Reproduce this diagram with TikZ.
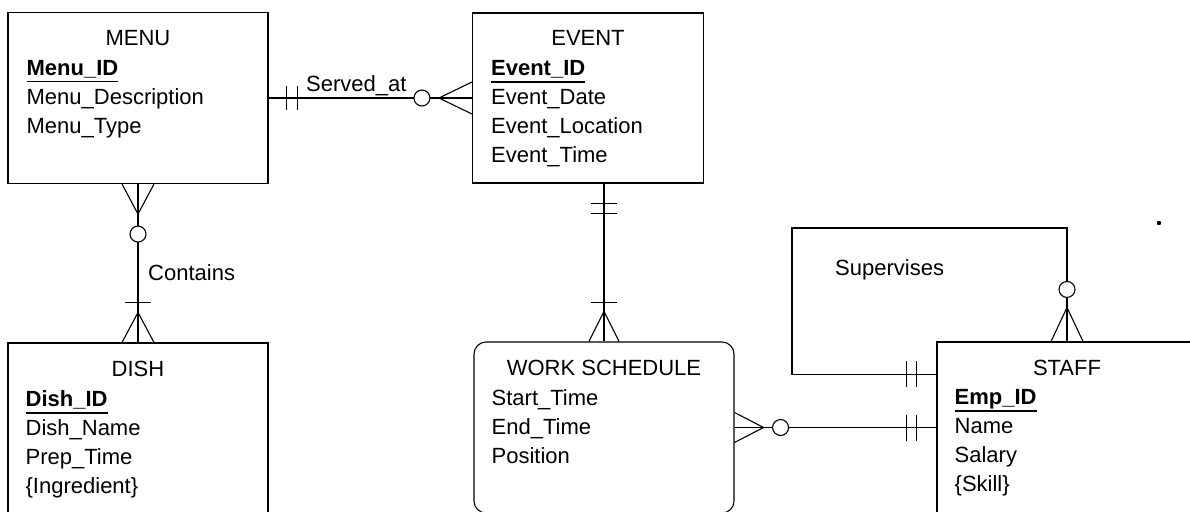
\documentclass[tikz,border=0pt]{standalone}
\usepackage{fontspec}
\setmainfont{Liberation Sans}
\usepackage{tikz}
\usetikzlibrary{positioning, calc}
\newcommand\keyattr[1]{\setbox0\hbox{\bfseries #1}\rlap{\rule[-7pt]{\wd0}{1.3pt}}\box0}
\begin{document}
\begin{tikzpicture}[
  x=1pt, y=-1pt,
  font=\fontsize{22}{29}\selectfont,
  entity/.style={rectangle, draw, line width=1.1pt, inner sep=0,
    minimum width=260pt, minimum height=171pt},
  etitle/.style={inner sep=0},
  attr/.style={inner sep=0, align=left},
  rel/.style={line width=1.1pt},
  zero/.style={circle, draw, fill=white, line width=1.1pt, inner sep=0, minimum size=16pt},
  label/.style={inner sep=0, anchor=base west}
]
\fill[white] (0,0) rectangle (1190,511);
\useasboundingbox (0,0) rectangle (1190,511);
\node[entity] (menu) at (138,98) {};
\node[entity, minimum width=231pt, minimum height=170pt] (event) at (588,98) {};
\node[entity, minimum height=200pt] (dish) at (138,443) {};
\node[entity, rounded corners=12pt] (ws) at (604,427.5) {};
\node[entity, minimum height=200pt] (staff) at (1067,442) {};
\node[etitle, below=18pt of menu.north] (menutitle) {MENU};
\node[attr, below right=48pt and 19pt of menu.north west] (menuattr)
  {\keyattr{Menu\_ID}\\Menu\_Description\\Menu\_Type};
\node[etitle, below=18pt of event.north] (eventtitle) {EVENT};
\node[attr, below right=48pt and 19pt of event.north west] (eventattr)
  {\keyattr{Event\_ID}\\Event\_Date\\Event\_Location\\Event\_Time};
\node[etitle, below=18pt of dish.north] (dishtitle) {DISH};
\node[attr, below right=48pt and 18pt of dish.north west] (dishattr)
  {\keyattr{Dish\_ID}\\Dish\_Name\\Prep\_Time\\\{Ingredient\}};
\node[etitle, below=18pt of ws.north] (wstitle) {WORK SCHEDULE};
\node[attr, below right=48pt and 18pt of ws.north west] (wsattr)
  {Start\_Time\\End\_Time\\Position};
\node[etitle, below=18pt of staff.north] (stafftitle) {STAFF};
\node[attr, below right=48pt and 18pt of staff.north west] (staffattr)
  {\keyattr{Emp\_ID}\\Name\\Salary\\\{Skill\}};
\coordinate (supcorner) at (792,228);
\draw[rel] (menu) -- (event);
\draw[rel] (menu) -- (dish);
\draw[rel] (event.south -| ws.north) -- (ws.north);
\draw[rel] (ws) -- (staff.west |- ws.east);
\draw[rel] ($(staff.north west)+(0,33)$) -| (supcorner) -| (staff.north);
\draw[rel] ($(menu.east)+(18,-12)$) -- +(0,24);
\draw[rel] ($(menu.east)+(29,-12)$) -- +(0,24);
\node[zero] (servedzero) at ($(event.west)+(-50,0)$) {};
\draw[rel] ($(event.west)+(0,-16)$) -- ($(event.west)+(-33,0)$) -- ($(event.west)+(0,16)$);
\draw[rel] ($(menu.south)+(-16,0)$) -- ($(menu.south)+(0,30)$) -- ($(menu.south)+(16,0)$);
\node[zero] (containszero) at ($(menu.south)+(0,50)$) {};
\draw[rel] ($(dish.north)+(-13,-40)$) -- +(26,0);
\draw[rel] ($(dish.north)+(-16,0)$) -- ($(dish.north)+(0,-30)$) -- ($(dish.north)+(16,0)$);
\draw[rel] ($(event.south -| ws.north)+(-13,20)$) -- +(26,0);
\draw[rel] ($(event.south -| ws.north)+(-13,30)$) -- +(26,0);
\draw[rel] ($(ws.north)+(-13,-39)$) -- +(26,0);
\draw[rel] ($(ws.north)+(-15,0)$) -- ($(ws.north)+(0,-30)$) -- ($(ws.north)+(15,0)$);
\draw[rel] ($(ws.east)+(0,-15)$) -- ($(ws.east)+(29,0)$) -- ($(ws.east)+(0,15)$);
\node[zero] (wszero) at ($(ws.east)+(46,0)$) {};
\draw[rel] ($(staff.west |- ws.east)+(-30,-13)$) -- +(0,26);
\draw[rel] ($(staff.west |- ws.east)+(-20,-13)$) -- +(0,26);
\draw[rel] ($(staff.north west)+(-30,20)$) -- +(0,26);
\draw[rel] ($(staff.north west)+(-20,20)$) -- +(0,26);
\node[zero] (supzero) at ($(staff.north)+(0,-52)$) {};
\draw[rel] ($(staff.north)+(-16,0)$) -- ($(staff.north)+(0,-34)$) -- ($(staff.north)+(16,0)$);
\node[label] (servedat) at (306,91) {Served\_at};
\node[label] (contains) at (148,280) {Contains};
\node[label] (supervises) at (835,275) {Supervises};
\fill (1159,223) circle[radius=2.2];
\end{tikzpicture}
\end{document}
